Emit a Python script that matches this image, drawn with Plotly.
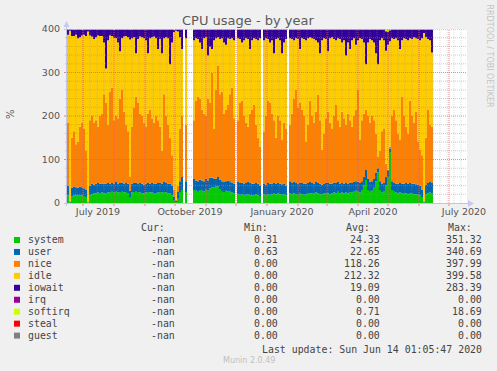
import plotly.graph_objects as go
import pandas as pd

W, H = 497, 371

# ---------------- data (one sample every 2 days, None = no data) ----------------
start_date = "2019-06-15"
step_days = 2

system = [18, 1, 15, 18, 17, 18, 17, 18, 16, 14, 1, 18, 20, 22, 22, 24, 23, 24, 22, 23,
          24, 25, 26, 24, 26, 24, 25, 26, 24, 25, 23, 12, 24, 25, 26, 25, 24, 22, 22, 24,
          25, 24, 24, 23, 22, 24, 25, 24, 25, 24, 22, 22, 18, 5, 2, 10, 25, 30, None, 25,
          None, None, None, 30, 28, 26, 30, 28, 27, 32, 28, 34, 36, 36, 38, 38, 32, 26, 25, 28,
          27, 26, 24, 22, None, 20, 19, 20, 18, 19, 20, 18, 17, 18, 20, 18, 16, None, 20, 18,
          20, 19, 20, 21, 20, 22, 20, 19, 20, 18, None, 22, 20, 22, 20, 19, 21, 20, 19, 20,
          21, 22, 22, 21, 24, 22, 20, 20, 22, 23, 22, 20, 22, 24, 22, 26, 22, 24, 22, 24,
          22, 25, 24, 26, 28, 26, 24, 30, 40, 53, 30, 26, 28, 35, 50, 70, 30, 24, 26, 40,
          60, 117, 30, 26, 24, 22, 24, 22, 21, 22, 20, 22, 21, 20, 20, 19, 18, 12, 1, 20,
          22, 24, 23]
user = [22, 2, 20, 20, 19, 17, 21, 18, 18, 16, 1, 22, 24, 20, 22, 22, 21, 21, 22, 22,
        22, 19, 20, 20, 22, 21, 21, 21, 21, 21, 21, 16, 20, 21, 21, 20, 22, 22, 20, 21,
        21, 20, 22, 22, 22, 22, 22, 21, 23, 22, 23, 22, 22, 10, 3, 15, 25, 30, None, 25,
        None, None, None, 25, 24, 24, 24, 24, 23, 24, 24, 24, 22, 19, 18, 22, 22, 24, 23, 22,
        25, 24, 23, 23, None, 28, 27, 27, 27, 27, 28, 28, 27, 27, 26, 26, 24, None, 25, 24,
        26, 25, 25, 25, 24, 24, 24, 24, 25, 22, None, 28, 26, 26, 26, 26, 26, 26, 25, 25,
        25, 26, 24, 24, 24, 24, 24, 22, 23, 24, 24, 24, 23, 23, 24, 22, 23, 22, 22, 22,
        23, 22, 22, 22, 22, 22, 22, 20, 20, 23, 25, 22, 22, 20, 20, 10, 20, 21, 20, 20,
        15, 8, 20, 20, 21, 22, 22, 23, 23, 24, 24, 24, 24, 24, 23, 23, 22, 18, 2, 22,
        24, 24, 23]
nice = [144, 2, 115, 127, 99, 105, 137, 149, 136, 90, 2, 150, 156, 143, 146, 129, 156, 160, 206, 185,
        134, 211, 219, 146, 152, 150, 194, 213, 165, 134, 121, 32, 131, 174, 198, 185, 159, 156, 143, 130,
        159, 171, 149, 140, 156, 144, 128, 75, 202, 154, 135, 106, 70, 15, 3, 15, 120, 140, None, 130,
        None, None, None, 135, 183, 195, 186, 163, 155, 144, 188, 172, 242, 115, 204, 255, 196, 205, 157, 165,
        173, 200, 218, 150, None, 142, 184, 188, 155, 139, 127, 159, 171, 180, 134, 106, 90, None, 120, 158,
        189, 186, 160, 144, 106, 154, 146, 102, 140, 130, None, 130, 159, 192, 214, 175, 183, 169, 156, 95,
        134, 187, 154, 140, 162, 202, 146, 80, 115, 148, 164, 141, 125, 153, 179, 142, 130, 164, 151, 134,
        160, 143, 129, 152, 165, 212, 99, 140, 145, 139, 145, 137, 150, 135, 90, 26, 70, 120, 124, 30,
        1, 5, 150, 169, 145, 116, 99, 200, 156, 129, 116, 189, 155, 141, 167, 98, 82, 80, 2, 108,
        168, 132, 129]
idle = [203, 391, 234, 219, 252, 239, 206, 200, 217, 264, 390, 195, 183, 192, 191, 210, 184, 179, 119, 79,
        194, 130, 119, 190, 179, 174, 109, 119, 173, 204, 216, 316, 204, 161, 99, 147, 178, 181, 194, 199,
        139, 164, 186, 198, 179, 164, 202, 224, 129, 181, 199, 169, 259, 363, 388, 354, 211, 154, None, 199,
        None, None, None, 184, 144, 132, 129, 139, 174, 181, 99, 129, 54, 204, 119, 66, 127, 124, 164, 149,
        154, 127, 114, 179, None, 189, 147, 134, 174, 194, 202, 149, 159, 154, 197, 224, 249, None, 209, 179,
        142, 139, 169, 154, 227, 179, 184, 199, 184, 207, None, 199, 172, 134, 119, 157, 124, 164, 177, 234,
        199, 146, 179, 192, 164, 121, 154, 252, 219, 182, 139, 194, 211, 177, 149, 189, 202, 159, 179, 159,
        164, 164, 199, 179, 149, 114, 234, 187, 164, 104, 169, 192, 174, 179, 184, 213, 254, 214, 204, 260,
        288, 242, 179, 162, 189, 214, 209, 129, 179, 202, 214, 144, 177, 196, 169, 237, 252, 269, 386, 231,
        163, 194, 171]
iowait = [12, 3, 15, 14, 12, 20, 18, 13, 12, 15, 5, 14, 16, 22, 18, 14, 15, 15, 30, 90,
          25, 14, 15, 18, 20, 30, 50, 20, 16, 15, 18, 22, 20, 18, 55, 22, 16, 18, 20, 25,
          55, 20, 18, 16, 20, 45, 22, 55, 20, 18, 20, 80, 30, 5, 3, 5, 18, 45, None, 20,
          None, None, None, 25, 20, 22, 30, 45, 20, 18, 60, 40, 45, 25, 20, 18, 22, 20, 30, 35,
          20, 22, 20, 25, None, 20, 22, 30, 25, 20, 22, 45, 25, 20, 22, 25, 20, None, 25, 20,
          22, 30, 25, 55, 22, 20, 25, 55, 30, 22, None, 20, 22, 25, 20, 22, 45, 20, 22, 25,
          20, 18, 20, 22, 25, 30, 55, 25, 20, 22, 50, 20, 18, 22, 25, 20, 22, 30, 25, 60,
          30, 45, 25, 20, 35, 25, 20, 22, 30, 80, 30, 22, 25, 30, 55, 80, 25, 20, 25, 45,
          30, 25, 20, 22, 20, 25, 45, 25, 20, 22, 25, 20, 22, 18, 20, 22, 25, 20, 8, 18,
          22, 25, 53]
softirq = [1, 1, 1, 2, 1, 1, 1, 2, 1, 1, 1, 1, 1, 1, 1, 1, 1, 1, 1, 1,
           1, 1, 1, 2, 1, 1, 1, 1, 1, 1, 1, 2, 1, 1, 1, 1, 1, 1, 1, 1,
           1, 1, 1, 1, 1, 1, 1, 1, 1, 1, 1, 1, 1, 2, 1, 1, 1, 1, None, 1,
           None, None, None, 1, 1, 1, 1, 1, 1, 1, 1, 1, 1, 1, 1, 1, 1, 1, 1, 1,
           1, 1, 1, 1, None, 1, 1, 1, 1, 1, 1, 1, 1, 1, 1, 1, 1, None, 1, 1,
           1, 1, 1, 1, 1, 1, 1, 1, 1, 1, None, 1, 1, 1, 1, 1, 1, 1, 1, 1,
           1, 1, 1, 1, 1, 1, 1, 1, 1, 1, 1, 1, 1, 1, 1, 1, 1, 1, 1, 1,
           1, 1, 1, 1, 1, 1, 1, 1, 1, 1, 1, 1, 1, 1, 1, 1, 1, 1, 1, 5,
           6, 3, 1, 1, 1, 1, 1, 1, 1, 1, 1, 1, 1, 1, 1, 1, 1, 1, 1, 1,
           1, 1, 1]

# legend table
legend_names = ["system", "user", "nice", "idle", "iowait", "irq", "softirq", "steal", "guest"]
legend_colors = ["#00CC00", "#0066B3", "#FF8000", "#FFCC00", "#330099",
                 "#990099", "#CCFF00", "#FF0000", "#808080"]
cur_vals = ["-nan"] * 9
min_vals = ["0.31", "0.63", "0.00", "0.00", "0.00", "0.00", "0.00", "0.00", "0.00"]
avg_vals = ["24.33", "22.65", "118.26", "212.32", "19.09", "0.00", "0.71", "0.00", "0.00"]
max_vals = ["351.32", "340.69", "397.99", "399.58", "283.39", "0.00", "18.69", "0.00", "0.00"]

# axes
x_range = ["2019-06-15", "2020-07-19"]
x_label_dates = ["2019-07-16", "2019-10-16", "2020-01-16", "2020-04-16", "2020-07-16"]
x_labels = ["July 2019", "October 2019", "January 2020", "April 2020", "July 2020"]
y_ticks = [0, 100, 200, 300, 400]

# ---------------- layout helpers ----------------
PL, PR, PT, PB = 67, 467, 29, 203


def px(x):
    return x / W


def py(y):
    return 1 - y / H


fig = go.Figure()

dates = pd.date_range(start_date, periods=len(system), freq=f"{step_days}D")
stack = [(system, "#00CC00"), (user, "#0066B3"), (nice, "#FF8000"),
         (idle, "#FFCC00"), (iowait, "#330099"), (softirq, "#CCFF00")]

segments, cur = [], []
for i, v in enumerate(system):
    if v is None:
        if cur:
            segments.append(cur)
            cur = []
    else:
        cur.append(i)
if cur:
    segments.append(cur)

for si, seg in enumerate(segments):
    xs = list(dates[seg]) + [dates[seg[-1]] + pd.Timedelta(days=step_days)]
    for vals, col in stack:
        ys = [vals[i] for i in seg] + [vals[seg[-1]]]
        fig.add_trace(go.Scatter(
            x=xs, y=ys, stackgroup=f"g{si}", mode="lines",
            line=dict(width=0, shape="hv", color=col), fillcolor=col,
            hoverinfo="skip", showlegend=False))

shapes = []
MAJ = "rgba(230,90,90,0.7)"
MIN = "rgba(150,150,150,0.5)"
DOT = "1px,1px"

# horizontal grid
for v in range(20, 401, 20):
    major = v % 100 == 0
    shapes.append(dict(type="line", xref="paper", yref="y", x0=px(PL), x1=px(PR), y0=v, y1=v,
                       line=dict(color=MAJ if major else MIN, width=1, dash=DOT), layer="above"))
    shapes.append(dict(type="line", xref="paper", yref="y", x0=px(PL - (3 if major else 2)), x1=px(PL),
                       y0=v, y1=v, line=dict(color=MAJ if major else MIN, width=1), layer="above"))

# weekly minor vertical grid
for d in pd.date_range("2019-06-17", "2020-07-19", freq="7D"):
    shapes.append(dict(type="line", xref="x", yref="paper", x0=d, x1=d, y0=py(PB), y1=py(PT),
                       line=dict(color="rgba(150,150,150,0.35)", width=1, dash=DOT), layer="above"))
# monthly major vertical grid
for d in pd.date_range("2019-07-01", "2020-07-01", freq="MS"):
    shapes.append(dict(type="line", xref="x", yref="paper", x0=d, x1=d, y0=py(PB), y1=py(PT),
                       line=dict(color=MAJ, width=1, dash=DOT), layer="above"))
    shapes.append(dict(type="line", xref="x", yref="paper", x0=d, x1=d, y0=py(PB + 3), y1=py(PB),
                       line=dict(color=MAJ, width=1), layer="above"))

AX = "#C4C4E4"
# axes lines
shapes.append(dict(type="line", xref="paper", yref="paper", x0=px(PL - 3), x1=px(PR + 3),
                   y0=py(PB + 0.5), y1=py(PB + 0.5), line=dict(color=AX, width=1), layer="above"))
shapes.append(dict(type="line", xref="paper", yref="paper", x0=px(PL - 0.5), x1=px(PL - 0.5),
                   y0=py(PB + 3), y1=py(PT - 5), line=dict(color=AX, width=1), layer="above"))


def tri(points):
    p = "M " + " L ".join(f"{px(a)},{py(b)}" for a, b in points) + " Z"
    return p


shapes.append(dict(type="path", xref="paper", yref="paper",
                   path=tri([(PL - 3.5, PT - 2), (PL + 2.5, PT - 2), (PL - 0.5, PT - 8)]),
                   fillcolor="#C8C8F4", line=dict(width=0), layer="above"))
shapes.append(dict(type="path", xref="paper", yref="paper",
                   path=tri([(PR + 1, PB - 3), (PR + 1, PB + 4), (PR + 7, PB + 0.5)]),
                   fillcolor="#C8C8F4", line=dict(width=0), layer="above"))

annotations = []
TXT = "#555555"
annotations.append(dict(text="CPU usage - by year", x=px(248), y=py(20), xref="paper", yref="paper",
                        showarrow=False, xanchor="center", yanchor="middle",
                        font=dict(family="DejaVu Sans", size=13, color="#5a5a5a")))
annotations.append(dict(text="%", x=px(10), y=py(114), xref="paper", yref="paper", textangle=-90,
                        showarrow=False, xanchor="center", yanchor="middle",
                        font=dict(family="DejaVu Sans", size=10, color=TXT)))
annotations.append(dict(text="RRDTOOL / TOBI OETIKER", x=px(488.5), y=py(56), xref="paper", yref="paper",
                        textangle=90, showarrow=False, xanchor="center", yanchor="middle",
                        font=dict(family="DejaVu Sans", size=8, color="#C4C4C4")))
annotations.append(dict(text="Munin 2.0.49", x=px(248.5), y=py(360), xref="paper", yref="paper",
                        showarrow=False, xanchor="center", yanchor="middle",
                        font=dict(family="DejaVu Sans", size=8, color="#C0C0C0")))

MONO = dict(family="DejaVu Sans Mono", size=9.9, color="#444444")


def txt(s, x, y, anchor):
    annotations.append(dict(text=s, x=px(x), y=py(y), xref="paper", yref="paper", showarrow=False,
                            xanchor=anchor, yanchor="middle", font=MONO, borderpad=0))


row0, dy = 240, 11.95
txt("Cur:", 140, row0 - 12.5, "left")
txt("Min:", 243, row0 - 12.5, "left")
txt("Avg:", 345, row0 - 12.5, "left")
txt("Max:", 447, row0 - 12.5, "left")
for i, name in enumerate(legend_names):
    yy = row0 + i * dy
    shapes.append(dict(type="rect", xref="paper", yref="paper", x0=px(14), x1=px(20),
                       y0=py(yy - 3), y1=py(yy + 3), fillcolor=legend_colors[i], line=dict(width=0)))
    txt(name, 26.5, yy, "left")
    txt(cur_vals[i], 176, yy, "right")
    txt(min_vals[i], 278.5, yy, "right")
    txt(avg_vals[i], 380.5, yy, "right")
    txt(max_vals[i], 483, yy, "right")
txt("Last update: Sun Jun 14 01:05:47 2020", 483, row0 + 9 * dy + 1.5, "right")

fig.update_layout(
    width=W, height=H, margin=dict(l=0, r=0, t=0, b=0, autoexpand=False),
    paper_bgcolor="#F0F0F0", plot_bgcolor="#FFFFFF",
    showlegend=False, shapes=shapes, annotations=annotations,
    xaxis=dict(domain=[px(PL), px(PR)], range=x_range, type="date", showgrid=False, zeroline=False,
               automargin=False,
               tickmode="array", tickvals=x_label_dates, ticktext=x_labels, ticks="",
               ticklabelstandoff=1, tickfont=dict(family="DejaVu Sans", size=9.5, color=TXT),
               showline=False, fixedrange=True),
    yaxis=dict(domain=[py(PB), py(PT)], range=[0, 400], showgrid=False, zeroline=False,
               automargin=False,
               tickmode="array", tickvals=y_ticks, ticks="", ticklabelstandoff=6,
               tickfont=dict(family="DejaVu Sans", size=9.5, color=TXT), showline=False, fixedrange=True),
)

fix_page = (
    "var s=document.createElement('style');"
    "s.textContent='html,body{margin:0!important;padding:0!important;overflow:hidden!important;"
    "background:#F0F0F0;}';"
    "document.head.appendChild(s);"
)
fig.write_html("out.html", config={"staticPlot": True}, post_script=fix_page)
